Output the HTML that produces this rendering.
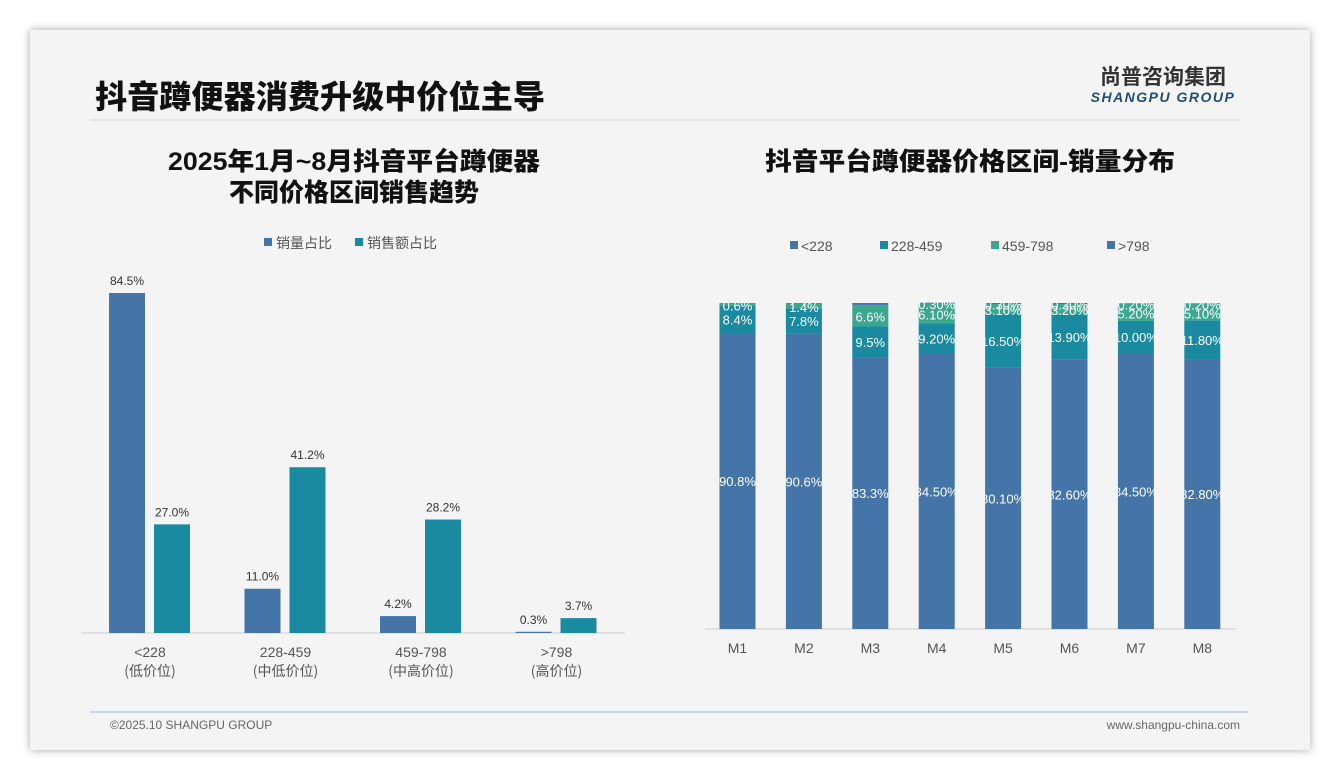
<!DOCTYPE html>
<html><head><meta charset="utf-8">
<style>
body{margin:0;width:1340px;height:780px;background:#fff;font-family:"Liberation Sans","Noto Sans CJK SC",sans-serif;overflow:hidden}
#card{position:absolute;left:30px;top:30px;width:1280px;height:720px;background:#f4f4f4;box-shadow:0 0 8px rgba(0,0,0,0.35)}
svg{position:absolute;left:0;top:0}
</style></head><body>
<div id="card"></div>
<svg id="s" width="1340" height="780">
<text x="95" y="108" font-size="32" font-weight="900" fill="#111" textLength="450" lengthAdjust="spacingAndGlyphs" font-family="Liberation Sans,Noto Sans CJK SC,sans-serif">抖音蹲便器消费升级中价位主导</text>
<line x1="90" y1="120" x2="1240" y2="120" stroke="#ddd" stroke-width="1.5"/>
<text x="1163" y="84" font-size="21" font-weight="bold" fill="#333" text-anchor="middle" font-family="Noto Sans CJK SC,sans-serif">尚普咨询集团</text>
<text x="1163" y="102" font-size="14" font-weight="bold" font-style="italic" fill="#1f4e79" text-anchor="middle" letter-spacing="1.5">SHANGPU GROUP</text>
<text x="354" y="170" font-size="25" font-weight="900" fill="#111" text-anchor="middle" textLength="372" lengthAdjust="spacingAndGlyphs" font-family="Liberation Sans,Noto Sans CJK SC,sans-serif">2025年1月~8月抖音平台蹲便器</text>
<text x="354" y="201" font-size="25" font-weight="900" fill="#111" text-anchor="middle" textLength="250" lengthAdjust="spacingAndGlyphs" font-family="Liberation Sans,Noto Sans CJK SC,sans-serif">不同价格区间销售趋势</text>
<text x="970" y="170" font-size="25" font-weight="900" fill="#111" text-anchor="middle" textLength="410" lengthAdjust="spacingAndGlyphs" font-family="Liberation Sans,Noto Sans CJK SC,sans-serif">抖音平台蹲便器价格区间-销量分布</text>
<rect x="264" y="238" width="8" height="8" fill="#4474a8"/>
<text x="276" y="248" font-size="14" fill="#555" font-family="Noto Sans CJK SC,sans-serif">销量占比</text>
<rect x="355" y="238" width="8" height="8" fill="#1a8aa0"/>
<text x="367" y="248" font-size="14" fill="#555" font-family="Noto Sans CJK SC,sans-serif">销售额占比</text>
<g id="left"></g><g id="right"></g>
<line x1="90" y1="712" x2="1248" y2="712" stroke="#9ab8d8" stroke-width="1"/>
<text x="110" y="729" font-size="12" fill="#666">©2025.10 SHANGPU GROUP</text>
<text x="1240" y="729" font-size="12" fill="#666" text-anchor="end">www.shangpu-china.com</text>
</svg>
<script>
const leftCats=["<228","228-459","459-798",">798"];
const leftSub=["(低价位)","(中低价位)","(中高价位)","(高价位)"];
const volumeShare=[84.5,11.0,4.2,0.3];
const salesShare=[27.0,41.2,28.2,3.7];
const months=["M1","M2","M3","M4","M5","M6","M7","M8"];
const segNames=["<228","228-459","459-798",">798"];
const segLow=[90.8,90.6,83.3,84.5,80.1,82.6,84.5,82.8];
const segMid=[8.4,7.8,9.5,9.2,16.5,13.9,10.0,11.8];
const segHigh=[0.6,1.4,6.6,6.1,3.1,3.2,5.2,5.1];
const segTop=[0.2,0.2,0.6,0.3,0.3,0.3,0.2,0.2];
const segLabels=[["90.8%","90.6%","83.3%","84.50%","80.10%","82.60%","84.50%","82.80%"],
["8.4%","7.8%","9.5%","9.20%","16.50%","13.90%","10.00%","11.80%"],
["0.6%","1.4%","6.6%","6.10%","3.10%","3.20%","5.20%","5.10%"],
["","","","0.30%","0.30%","0.30%","0.20%","0.20%"]];
const NS="http://www.w3.org/2000/svg";
function mk(t,a,p){const e=document.createElementNS(NS,t);for(const k in a)e.setAttribute(k,a[k]);p.appendChild(e);return e;}
const L=document.getElementById('left');
const lBase=633,lScale=340/84.5;
const ly=v=>lBase-v*lScale;
const lx=i=>150+i*135.5;
const ax=mk('line',{x1:82,y1:lBase,x2:625,y2:lBase,stroke:'#ccc'},L);


leftCats.forEach((c,i)=>{
 [[volumeShare,'#4474a8',-41,'volume'],[salesShare,'#1a8aa0',4,'sales']].forEach(([arr,col,off,nm])=>{
  const r=mk('rect',{x:lx(i)+off,y:ly(arr[i]),width:36,height:arr[i]*lScale,fill:col},L);
  
  
  const t=mk('text',{x:lx(i)+off+18,y:ly(arr[i])-8,'font-size':12,fill:'#333','text-anchor':'middle'},L);
  t.textContent=arr[i].toFixed(1)+'%';
  
  
 });
 const t1=mk('text',{x:lx(i),y:657,'font-size':14,fill:'#555','text-anchor':'middle'},L);
 t1.textContent=c;
 
 
 const t2=mk('text',{x:lx(i),y:676,'font-size':14,fill:'#555','text-anchor':'middle','font-family':'Noto Sans CJK SC,sans-serif'},L);
 t2.textContent=leftSub[i];
 
 
});
const R=document.getElementById('right');
const rBase=629,rScale=326/100;
const rx=i=>737.5+i*66.4;
const cols=['#4474a8','#1a8aa0','#3aa78e','#4474a8'];
const rax=mk('line',{x1:705,y1:rBase,x2:1236,y2:rBase,stroke:'#ccc'},R);


segNames.forEach((n,k)=>{
 const lx0=[790,880,991,1107][k];
 const s=mk('rect',{x:lx0,y:241,width:8,height:8,fill:cols[k]},R);
 
 
 const t=mk('text',{x:lx0+11,y:251,'font-size':14,fill:'#555'},R);
 t.textContent=n;
 
 
});
const defs=mk('defs',{},R);
months.forEach((m,i)=>{
 const cp=mk('clipPath',{id:'c'+i},defs);
 mk('rect',{x:rx(i)-18,y:290,width:36,height:340},cp);
 const vals=[segLow[i],segMid[i],segHigh[i],segTop[i]];
 let acc=0;
 vals.forEach((v,k)=>{
  const y0=rBase-(acc+v)*rScale;
  const r=mk('rect',{x:rx(i)-18,y:y0,width:36,height:v*rScale,fill:cols[k]},R);
  
  
  acc+=v;
 });
 acc=0;
 vals.forEach((v,k)=>{
  const yc=rBase-(acc+v/2)*rScale;
  acc+=v;
  if(!segLabels[k][i])return;
  const t=mk('text',{x:rx(i),y:yc+5+(k>=2?1:0),'font-size':13,fill:'#fff','text-anchor':'middle','clip-path':'url(#c'+i+')'},R);
  t.textContent=segLabels[k][i];
  
  
 });
 const t=mk('text',{x:rx(i),y:653,'font-size':14,fill:'#555','text-anchor':'middle'},R);
 t.textContent=m;
 
 
});
</script>
</body></html>
